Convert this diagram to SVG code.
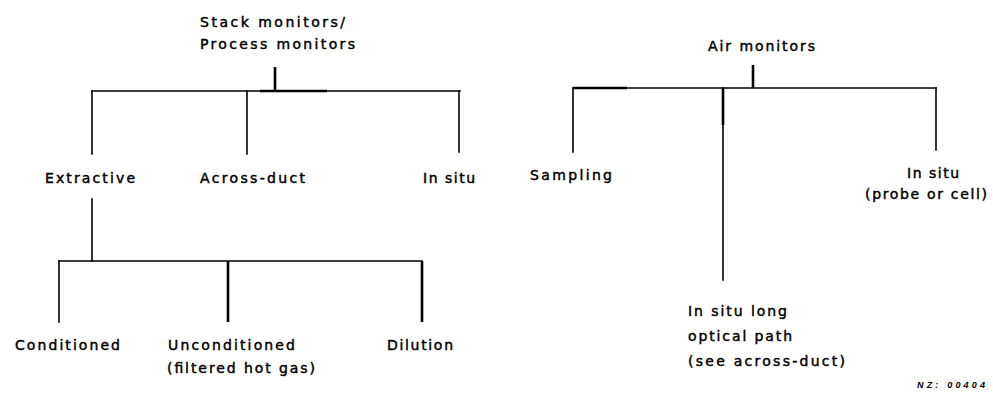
<svg xmlns="http://www.w3.org/2000/svg" width="993" height="394" viewBox="0 0 993 394">
<style>
  .bg { fill: #ffffff; }
  .ln { stroke: #000; stroke-width: 1.6; fill: none; stroke-linecap: square; }
  .stub { stroke: #000; stroke-width: 2.6; fill: none; }
  .lbl { font-family: "DejaVu Sans", "Liberation Sans", Arial, sans-serif; font-size: 14px; fill: #000; stroke: #000; stroke-width: 0.45; }
  .note { font-family: "Liberation Sans", Arial, sans-serif; font-size: 9px; font-style: italic; font-weight: bold; fill: #000; }
</style>
<rect class="bg" x="0" y="0" width="993" height="394"/>

<g id="connectors">
  <!-- left tree -->
  <line class="stub" x1="275" y1="67" x2="275" y2="91"/>
  <line class="ln" x1="92" y1="91" x2="460" y2="91"/>
  <line class="stub" x1="260" y1="91" x2="327" y2="91"/>
  <line class="ln" x1="92" y1="91" x2="92" y2="154"/>
  <line class="ln" x1="247" y1="91" x2="247" y2="154"/>
  <line class="ln" x1="459" y1="91" x2="459" y2="152"/>
  <line class="ln" x1="92" y1="199" x2="92" y2="261"/>
  <line class="ln" x1="59" y1="261" x2="422" y2="261"/>
  <line class="ln" x1="59" y1="261" x2="59" y2="322"/>
  <line class="stub" x1="228" y1="261" x2="228" y2="322"/>
  <line class="stub" x1="422" y1="261" x2="422" y2="322"/>
  <!-- right tree -->
  <line class="stub" x1="753" y1="65" x2="753" y2="88"/>
  <line class="ln" x1="573" y1="88" x2="936" y2="88"/>
  <line class="stub" x1="573" y1="88" x2="627" y2="88"/>
  <line class="ln" x1="573" y1="88" x2="573" y2="152"/>
  <line class="stub" x1="723" y1="88" x2="723" y2="125"/>
  <line class="ln" x1="723" y1="88" x2="723" y2="280"/>
  <line class="ln" x1="936" y1="88" x2="936" y2="150"/>
</g>

<g id="stack-monitors">
  <text class="lbl" x="200" y="27" textLength="145" lengthAdjust="spacing">Stack monitors/</text>
  <text class="lbl" x="200" y="49" textLength="155" lengthAdjust="spacing">Process monitors</text>
</g>
<g id="extractive">
  <text class="lbl" x="45" y="183" textLength="90" lengthAdjust="spacing">Extractive</text>
</g>
<g id="across-duct">
  <text class="lbl" x="200" y="183" textLength="105" lengthAdjust="spacing">Across-duct</text>
</g>
<g id="in-situ-left">
  <text class="lbl" x="423" y="183" textLength="52" lengthAdjust="spacing">In situ</text>
</g>
<g id="conditioned">
  <text class="lbl" x="15" y="350" textLength="105" lengthAdjust="spacing">Conditioned</text>
</g>
<g id="unconditioned">
  <text class="lbl" x="168" y="350" textLength="127" lengthAdjust="spacing">Unconditioned</text>
  <text class="lbl" x="167" y="373" textLength="148" lengthAdjust="spacing">(filtered hot gas)</text>
</g>
<g id="dilution">
  <text class="lbl" x="387" y="350" textLength="66" lengthAdjust="spacing">Dilution</text>
</g>
<g id="air-monitors">
  <text class="lbl" x="708" y="51" textLength="107" lengthAdjust="spacing">Air monitors</text>
</g>
<g id="sampling">
  <text class="lbl" x="530" y="180" textLength="82" lengthAdjust="spacing">Sampling</text>
</g>
<g id="in-situ-right">
  <text class="lbl" x="907" y="178" textLength="52" lengthAdjust="spacing">In situ</text>
  <text class="lbl" x="865" y="199" textLength="122" lengthAdjust="spacing">(probe or cell)</text>
</g>
<g id="in-situ-long">
  <text class="lbl" x="688" y="316" textLength="99" lengthAdjust="spacing">In situ long</text>
  <text class="lbl" x="688" y="341" textLength="104" lengthAdjust="spacing">optical path</text>
  <text class="lbl" x="688" y="366" textLength="157" lengthAdjust="spacing">(see across-duct)</text>
</g>
<g id="figure-code">
  <text class="note" x="917" y="388" textLength="68" lengthAdjust="spacing">NZ: 00404</text>
</g>
</svg>
